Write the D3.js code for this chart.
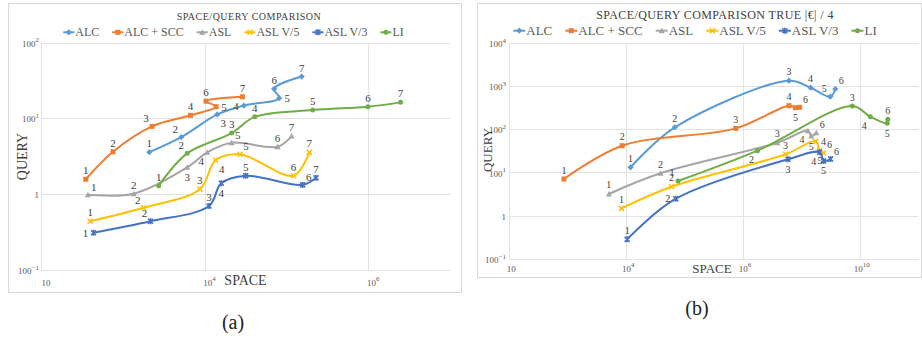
<!DOCTYPE html>
<html>
<head>
<meta charset="utf-8">
<script src="https://cdn.jsdelivr.net/npm/d3@7"></script>
<style>
  body { margin: 0; background: #fff; }
  svg { display: block; }
  text { font-family: "Liberation Serif", "Times New Roman", serif; }
</style>
</head>
<body>
<svg id="fig" width="922" height="339"></svg>
<script>
// ---- data ----------------------------------------------------------------
const seriesNames = ["ALC", "ALC + SCC", "ASL", "ASL V/5", "ASL V/3", "LI"];

// chart (a): [space, query] per configuration 1..7
const a_ALC    = [[2110, 3.6], [5180, 5.67], [14300, 11.3], [30300, 14.8], [81600, 18.5], [70800, 24.6], [153800, 35.7]];
const a_ALCSCC = [[353, 1.58], [758, 3.64], [2280, 7.87], [6730, 11.0], [13800, 14.3], [10400, 16.9], [29000, 19.3]];
const a_ASL    = [[374, 0.99], [1360, 1.02], [6130, 2.27], [10800, 3.58], [21400, 4.78], [78000, 4.24], [115800, 5.86]];
const a_ASLV5  = [[399, 0.441], [1800, 0.666], [8750, 1.17], [13650, 2.83], [27100, 3.37], [122500, 1.76], [190500, 3.58]];
const a_ASLV3  = [[438, 0.312], [2175, 0.441], [11300, 0.701], [16000, 1.40], [31800, 1.76], [158000, 1.33], [230000, 1.65]];
const a_LI     = [[2750, 1.30], [6130, 3.47], [21400, 6.42], [41000, 10.5], [209500, 12.9], [991000, 14.3], [2490000, 16.3]];

// chart (b): [space, query] per configuration 1..6
const b_ALC    = [[12970, 13.2], [177400, 111], [1.51e8, 1334], [5.44e8, 918], [1.74e9, 568], [2.34e9, 857]];
const b_ALCSCC = [[253, 7.07], [7890, 41.7], [6.5e6, 105], [1.51e8, 352], [2.21e8, 316], [2.84e8, 323]];
const b_ASL    = [[3600, 3.18], [76200, 9.58], [7.62e7, 48.9], [4.64e8, 92.8], [5.67e8, 69.9], [7.62e8, 83.4]];
const b_ASLV5  = [[7620, 1.48], [146000, 4.69], [1.24e8, 26.4], [7.31e8, 52.7], [9.27e8, 32.3], [1.17e9, 28.3]];
const b_ASLV3  = [[10600, 0.284], [188000, 2.47], [1.43e8, 20.2], [9.27e8, 29.4], [1.17e9, 18.5], [1.77e9, 20.5]];
const b_LI     = [[215000, 6.36], [2.34e7, 32], [6.38e9, 346], [1.85e10, 196], [5.04e10, 138], [5.22e10, 170]];

// axis ticks and their labels ("^" marks a superscript)
const a_xTicks = [1e2, 1e4, 1e6];
const a_xTickLabels = ["10", "10^4", "10^6"];
const a_yTicks = [0.1, 1, 10, 100];
const a_yTickLabels = ["100^−1", "1", "100^1", "100^2"];

const b_xTicks = [1e1, 1e4, 1e7, 1e10];
const b_xTickLabels = ["10", "10^4", "10^6", "10^10"];
const b_yTicks = [0.1, 1, 10, 100, 1000, 10000];
const b_yTickLabels = ["100^−1", "1", "100^1", "100^2", "100^3", "100^4"];

// ---- styling ---------------------------------------------------------------
const colors  = ["#5B9BD5", "#ED7D31", "#A5A5A5", "#FFC000", "#4472C4", "#70AD47"];
const markers = ["diamond", "square", "triangle", "x", "star", "circle"];

// where each point number sits relative to its point
const a_place = [
  ["t", "tl", "br", "l", "r", "t", "t"],
  ["t", "t", "tl", "t", "r", "t", "t"],
  ["tr", "t", "b", "bl", "tr", "t", "t"],
  ["t", "tl", "t", "br", "tr", "t", "t"],
  ["l", "tl", "t", "b", "t", "tr", "t"],
  ["t", "tl", "t", "t", "t", "t", "t"]
];
const b_place = [
  ["t", "t", "t", "t", "tl", "tr"],
  ["t", "t", "t", "t", "b", "tr"],
  ["t", "t", "t", "bl", "b", "tr"],
  ["t", "t", "t", "r", "b", "tr"],
  ["t", "l", "b", "bl", "b", "tr"],
  ["tl", "bl", "t", "bl", "b", "t"]
];
const placeOffset = {
  t: [0, -9], b: [0, 10], l: [-8, 0], r: [8, 0],
  tl: [-6, -8], tr: [6, -8], bl: [-6, 9], br: [6, 9]
};

const svg = d3.select("#fig");

function drawMarker(g, type, x, y, color, s) {
  const h = s / 2;
  if (type === "diamond") {
    g.append("path").attr("d", `M${x},${y - h - 0.6}L${x + h + 0.6},${y}L${x},${y + h + 0.6}L${x - h - 0.6},${y}Z`).attr("fill", color);
  } else if (type === "square") {
    g.append("rect").attr("x", x - h).attr("y", y - h).attr("width", s).attr("height", s).attr("fill", color);
  } else if (type === "triangle") {
    g.append("path").attr("d", `M${x},${y - h - 0.5}L${x + h + 0.5},${y + h}L${x - h - 0.5},${y + h}Z`).attr("fill", color);
  } else if (type === "circle") {
    g.append("circle").attr("cx", x).attr("cy", y).attr("r", h).attr("fill", color);
  } else {
    let d = `M${x - h},${y - h}L${x + h},${y + h}M${x - h},${y + h}L${x + h},${y - h}`;
    if (type === "star") d += `M${x},${y - h - 0.5}L${x},${y + h + 0.5}`;
    g.append("path").attr("d", d).attr("stroke", color).attr("stroke-width", 1.6).attr("fill", "none");
  }
}

// text with "^" superscript part
function supText(sel, label, supSize) {
  const parts = label.split("^");
  sel.append("tspan").text(parts[0]);
  if (parts.length > 1) {
    sel.append("tspan").attr("dy", "-0.45em").attr("font-size", supSize).text(parts[1]);
  }
}

function drawPanel(cfg) {
  const g = svg.append("g");
  // panel frame
  g.append("rect").attr("x", cfg.frame[0] + 0.5).attr("y", cfg.frame[1] + 0.5)
    .attr("width", cfg.frame[2] - cfg.frame[0]).attr("height", cfg.frame[3] - cfg.frame[1])
    .attr("fill", "#fff").attr("stroke", "#d9d9d9");

  const x = d3.scaleLog().domain(cfg.xDomain).range([cfg.plot[0], cfg.plot[1]]);
  const y = d3.scaleLog().domain(cfg.yDomain).range([cfg.plot[3], cfg.plot[2]]);

  // grid
  g.append("g").selectAll("line").data(cfg.yTicks).join("line")
    .attr("x1", cfg.plot[0]).attr("x2", cfg.plot[1])
    .attr("y1", d => Math.round(y(d)) + 0.5).attr("y2", d => Math.round(y(d)) + 0.5)
    .attr("stroke", "#e3e3e3");
  g.append("g").selectAll("line").data(cfg.xTicks).join("line")
    .attr("x1", d => Math.round(x(d)) + 0.5).attr("x2", d => Math.round(x(d)) + 0.5)
    .attr("y1", cfg.plot[2]).attr("y2", cfg.plot[3])
    .attr("stroke", "#e3e3e3");

  // tick labels
  cfg.xTicks.forEach((t, i) => {
    const tx = g.append("text").attr("x", x(t) + cfg.xLabelShift).attr("y", cfg.xLabelY)
      .attr("text-anchor", "middle").attr("dominant-baseline", "central")
      .attr("font-size", cfg.tickSize).attr("fill", "#595959");
    supText(tx, cfg.xTickLabels[i], cfg.tickSize - 2);
  });
  cfg.yTicks.forEach((t, i) => {
    const ty = g.append("text").attr("x", cfg.yLabelX).attr("y", y(t) + 1)
      .attr("text-anchor", "end").attr("dominant-baseline", "central")
      .attr("font-size", cfg.tickSize).attr("fill", "#595959");
    supText(ty, cfg.yTickLabels[i], cfg.tickSize - 2);
  });

  // axis titles
  g.append("text").attr("x", cfg.xTitle[0]).attr("y", cfg.xTitle[1])
    .attr("text-anchor", "middle").attr("dominant-baseline", "central")
    .attr("font-size", cfg.axisTitleSize).attr("fill", "#404040").text("SPACE");
  g.append("text").attr("transform", `translate(${cfg.yTitle[0]},${cfg.yTitle[1]}) rotate(-90)`)
    .attr("text-anchor", "middle").attr("dominant-baseline", "central")
    .attr("font-size", cfg.axisTitleSize).attr("fill", "#404040").text("QUERY");

  // chart title
  g.append("text").attr("x", cfg.titlePos[0]).attr("y", cfg.titlePos[1])
    .attr("text-anchor", "middle").attr("dominant-baseline", "central")
    .attr("font-size", cfg.titleSize).attr("letter-spacing", cfg.titleSpacing)
    .attr("fill", "#404040").text(cfg.title);

  // series
  const line = d3.line().x(d => x(d[0])).y(d => y(d[1])).curve(d3.curveCatmullRom.alpha(0.5));
  cfg.series.forEach((s, si) => {
    const sg = g.append("g");
    sg.append("path").attr("d", line(s)).attr("fill", "none")
      .attr("stroke", colors[si]).attr("stroke-width", 2).attr("stroke-linejoin", "round");
    s.forEach(d => drawMarker(sg, markers[si], x(d[0]), y(d[1]), colors[si], cfg.markerSize));
  });
  // point numbers
  cfg.series.forEach((s, si) => {
    s.forEach((d, i) => {
      const off = placeOffset[cfg.place[si][i]];
      g.append("text").attr("x", x(d[0]) + off[0]).attr("y", y(d[1]) + off[1])
        .attr("text-anchor", "middle").attr("dominant-baseline", "central")
        .attr("font-size", cfg.pointLabelSize).attr("fill", "#404040").text(i + 1);
    });
  });

  // legend
  const lg = g.append("g");
  let cx = 0;
  const items = seriesNames.map((name, si) => {
    const it = lg.append("g");
    it.append("line").attr("x1", 0).attr("x2", cfg.legendLine).attr("y1", 0).attr("y2", 0)
      .attr("stroke", colors[si]).attr("stroke-width", 2);
    drawMarker(it, markers[si], cfg.legendLine / 2, 0, colors[si], cfg.markerSize);
    const t = it.append("text").attr("x", cfg.legendLine + 1).attr("y", 0)
      .attr("dominant-baseline", "central").attr("font-size", cfg.legendSize)
      .attr("fill", "#595959").text(name);
    const w = cfg.legendLine + 1 + t.node().getComputedTextLength();
    it.attr("transform", `translate(${cx},${cfg.legendY})`);
    cx += w + cfg.legendGap;
    return it;
  });
  const total = cx - cfg.legendGap;
  lg.attr("transform", `translate(${cfg.legendCX - total / 2},0)`);
}

drawPanel({
  frame: [8, 3, 461, 292],
  plot: [41, 450, 42.6, 270.2],
  xDomain: [1e2, 1e7], yDomain: [0.1, 100],
  xTicks: a_xTicks, xTickLabels: a_xTickLabels,
  yTicks: a_yTicks, yTickLabels: a_yTickLabels,
  xLabelY: 282.5, xLabelShift: 5, yLabelX: 39, tickSize: 9,
  xTitle: [245.5, 280], yTitle: [22, 156.5], axisTitleSize: 14,
  title: "SPACE/QUERY COMPARISON", titlePos: [249, 16], titleSize: 10, titleSpacing: 0.5,
  legendY: 32.3, legendCX: 233.5, legendSize: 12, legendLine: 11, legendGap: 13,
  series: [a_ALC, a_ALCSCC, a_ASL, a_ASLV5, a_ASLV3, a_LI],
  place: a_place, markerSize: 5, pointLabelSize: 11
});

drawPanel({
  frame: [477, 3, 921, 277],
  plot: [509.3, 918.3, 42.9, 258.9],
  xDomain: [1e1, Math.pow(10, 11.5)], yDomain: [0.1, 1e4],
  xTicks: b_xTicks, xTickLabels: b_xTickLabels,
  yTicks: b_yTicks, yTickLabels: b_yTickLabels,
  xLabelY: 268.5, xLabelShift: 2, yLabelX: 506, tickSize: 9,
  xTitle: [712, 268], yTitle: [487, 150], axisTitleSize: 13,
  title: "SPACE/QUERY COMPARISON TRUE |€|  / 4", titlePos: [715, 15], titleSize: 12, titleSpacing: 0.4,
  legendY: 30.7, legendCX: 695, legendSize: 13, legendLine: 12, legendGap: 13,
  series: [b_ALC, b_ALCSCC, b_ASL, b_ASLV5, b_ASLV3, b_LI],
  place: b_place, markerSize: 5, pointLabelSize: 10
});

// sub-figure captions
svg.append("text").attr("x", 233).attr("y", 322).attr("text-anchor", "middle")
  .attr("dominant-baseline", "central").attr("font-size", 20).attr("fill", "#222").text("(a)");
svg.append("text").attr("x", 697).attr("y", 308).attr("text-anchor", "middle")
  .attr("dominant-baseline", "central").attr("font-size", 20).attr("fill", "#222").text("(b)");
</script>
</body>
</html>
